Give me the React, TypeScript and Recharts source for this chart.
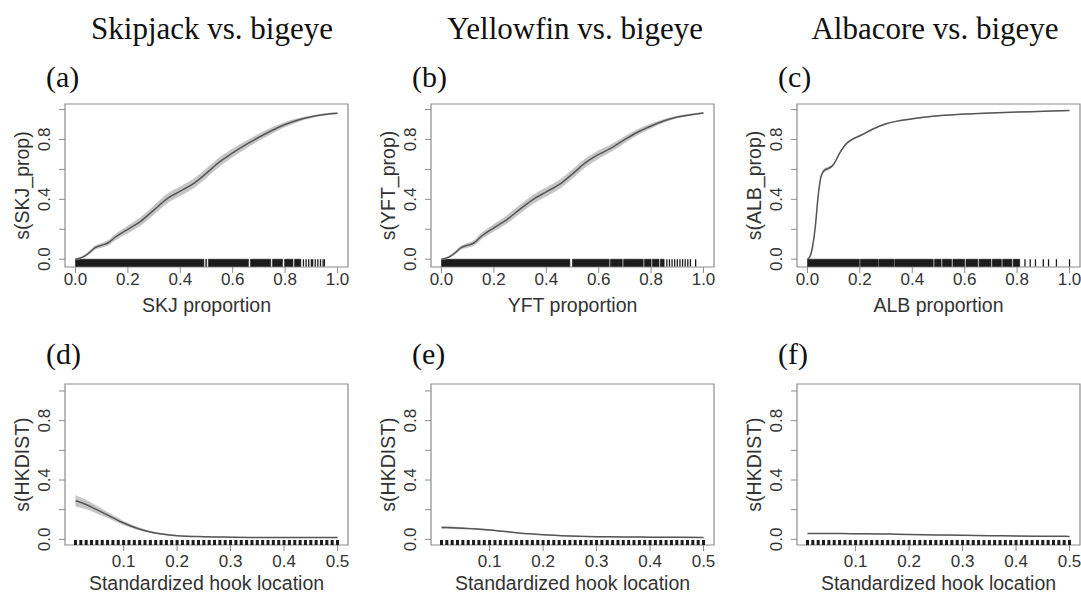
import { ComposedChart, Area, Line, XAxis, YAxis, ReferenceArea, ReferenceLine, Label } from 'recharts';

// species proportion smooths (top row)
const propX = [0, 0.025, 0.05, 0.075, 0.1, 0.125, 0.15, 0.2, 0.25, 0.3, 0.35, 0.4, 0.45, 0.5, 0.55, 0.6, 0.65, 0.7, 0.75, 0.8, 0.85, 0.9, 0.95, 1.0];
const skjFit = [0, 0.012, 0.04, 0.078, 0.093, 0.11, 0.145, 0.2, 0.255, 0.33, 0.405, 0.455, 0.505, 0.575, 0.65, 0.71, 0.765, 0.815, 0.86, 0.9, 0.93, 0.952, 0.967, 0.975];
const skjSe = [0.004, 0.007, 0.011, 0.014, 0.016, 0.018, 0.021, 0.026, 0.029, 0.031, 0.032, 0.032, 0.032, 0.032, 0.031, 0.029, 0.027, 0.024, 0.021, 0.017, 0.013, 0.009, 0.007, 0.005];
const yftFit = [0, 0.012, 0.04, 0.078, 0.093, 0.11, 0.15, 0.21, 0.265, 0.335, 0.4, 0.45, 0.5, 0.57, 0.645, 0.7, 0.745, 0.8, 0.85, 0.89, 0.925, 0.95, 0.965, 0.977];
const yftSe = [0.004, 0.007, 0.011, 0.014, 0.016, 0.018, 0.021, 0.025, 0.028, 0.03, 0.031, 0.031, 0.031, 0.031, 0.03, 0.028, 0.026, 0.023, 0.02, 0.016, 0.012, 0.009, 0.007, 0.005];

const albX = [0, 0.01, 0.02, 0.03, 0.04, 0.05, 0.06, 0.07, 0.08, 0.09, 0.1, 0.125, 0.15, 0.175, 0.2, 0.25, 0.3, 0.35, 0.4, 0.5, 0.6, 0.7, 0.8, 0.9, 1.0];
const albFit = [0, 0.02, 0.09, 0.22, 0.41, 0.54, 0.585, 0.6, 0.607, 0.617, 0.635, 0.715, 0.775, 0.805, 0.825, 0.87, 0.905, 0.925, 0.938, 0.958, 0.97, 0.977, 0.983, 0.988, 0.993];
const albSe = [0.002, 0.005, 0.007, 0.009, 0.011, 0.012, 0.012, 0.012, 0.012, 0.011, 0.01, 0.009, 0.008, 0.007, 0.006, 0.005, 0.005, 0.004, 0.004, 0.003, 0.003, 0.003, 0.003, 0.003, 0.003];

// hook location smooths (bottom row)
const hookX = [0.01, 0.03, 0.05, 0.075, 0.1, 0.125, 0.15, 0.175, 0.2, 0.25, 0.3, 0.35, 0.4, 0.45, 0.5];
const skjHkFit = [0.26, 0.235, 0.2, 0.155, 0.11, 0.075, 0.05, 0.034, 0.025, 0.018, 0.015, 0.013, 0.012, 0.012, 0.012];
const skjHkSe = [0.038, 0.032, 0.026, 0.019, 0.014, 0.01, 0.007, 0.005, 0.004, 0.003, 0.003, 0.003, 0.003, 0.003, 0.004];
const yftHkFit = [0.08, 0.078, 0.075, 0.07, 0.063, 0.054, 0.045, 0.037, 0.031, 0.023, 0.018, 0.016, 0.015, 0.014, 0.013];
const yftHkSe = [0.009, 0.008, 0.007, 0.006, 0.005, 0.004, 0.003, 0.003, 0.003, 0.003, 0.003, 0.003, 0.003, 0.003, 0.003];
const albHkFit = [0.04, 0.04, 0.039, 0.039, 0.038, 0.037, 0.036, 0.035, 0.033, 0.03, 0.027, 0.025, 0.023, 0.021, 0.02];
const albHkSe = [0.003, 0.003, 0.003, 0.003, 0.003, 0.003, 0.003, 0.003, 0.003, 0.003, 0.003, 0.003, 0.003, 0.003, 0.003];

// rugs: dense stretches as blocks, isolated observations as ticks
const skjRugBlocks = [[0, 0.49], [0.497, 0.5], [0.507, 0.66], [0.668, 0.745], [0.752, 0.79], [0.798, 0.83], [0.836, 0.86]];
const skjRugTicks = [0.87, 0.88, 0.89, 0.9, 0.905, 0.915, 0.925, 0.935, 0.945, 0.95];
const yftRugBlocks = [[0, 0.49], [0.5, 0.64], [0.645, 0.69], [0.695, 0.77], [0.775, 0.8], [0.805, 0.83], [0.835, 0.85]];
const yftRugTicks = [0.86, 0.87, 0.88, 0.89, 0.9, 0.91, 0.92, 0.93, 0.94, 0.95, 0.97];
const albRugBlocks = [[0, 0.198], [0.202, 0.27], [0.273, 0.33], [0.333, 0.48], [0.485, 0.51], [0.515, 0.55], [0.555, 0.6], [0.605, 0.65], [0.655, 0.7], [0.705, 0.74], [0.745, 0.78], [0.785, 0.81]];
const albRugTicks = [0.83, 0.85, 0.87, 0.9, 0.92, 0.95, 1.0];
const hookLocs = [
  0.01, 0.02, 0.03, 0.04, 0.05, 0.06, 0.07, 0.08, 0.09, 0.1,
  0.11, 0.12, 0.13, 0.14, 0.15, 0.16, 0.17, 0.18, 0.19, 0.2,
  0.21, 0.22, 0.23, 0.24, 0.25, 0.26, 0.27, 0.28, 0.29, 0.3,
  0.31, 0.32, 0.33, 0.34, 0.35, 0.36, 0.37, 0.38, 0.39, 0.4,
  0.41, 0.42, 0.43, 0.44, 0.45, 0.46, 0.47, 0.48, 0.49, 0.5,
];

const propTicks = [0, 0.2, 0.4, 0.6, 0.8, 1.0];
const hookTicks = [0.1, 0.2, 0.3, 0.4, 0.5];
const yTicks = [0, 0.2, 0.4, 0.6, 0.8, 1.0];
const yLabeled = [0, 0.4, 0.8];

const titles = ['Skipjack vs. bigeye', 'Yellowfin vs. bigeye', 'Albacore vs. bigeye'];

const SANS = '"Liberation Sans", Arial, Helvetica, sans-serif';
const SERIF = '"Liberation Serif", "Times New Roman", serif';
const GREY = '#8c8c8c';
const INK = '#333';

type Row = { x: number; fit: number; band: [number, number] };

function makeRows(xs: number[], fit: number[], se: number[]): Row[] {
  return xs.map((x, i) => ({ x, fit: fit[i], band: [fit[i] - se[i], fit[i] + se[i]] }));
}

const YTick = (props: any) => {
  const { x, y, payload } = props;
  if (!yLabeled.includes(payload.value)) return <g />;
  return (
    <text transform={`translate(${x - 7},${y}) rotate(-90)`} textAnchor="middle"
      fontSize={17} fontFamily={SANS} fill={INK}>
      {payload.value.toFixed(1)}
    </text>
  );
};

interface PanelProps {
  left: number;
  top: number;
  plotH: number;
  rows: Row[];
  xDomain: [number, number];
  yDomain: [number, number];
  xTicks: number[];
  xLabel: string;
  yLabel: string;
  tickGap: number;
  rugY: [number, number];
  rugBlocks?: number[][];
  rugTicks?: number[];
  rugWidth?: number;
}

const CW = 366;
const CH = 280;

function Panel(p: PanelProps) {
  const bottom = CH - 44 - p.plotH - 60;
  return (
    <div style={{ position: 'absolute', left: p.left, top: p.top }}>
      <ComposedChart width={CW} height={CH} data={p.rows} margin={{ top: 44, right: 18, bottom, left: 15 }}>
        <XAxis dataKey="x" type="number" domain={p.xDomain} ticks={p.xTicks} interval={0} allowDataOverflow
          height={60} axisLine={false} tickSize={6} tickMargin={p.tickGap}
          tickLine={{ stroke: GREY }} tick={{ fontSize: 17, fill: INK, fontFamily: SANS }}
          tickFormatter={(v: number) => v.toFixed(1)}>
          <Label content={(lp: any) => {
            const vb = lp.viewBox;
            return (
              <text x={vb.x + vb.width / 2} y={vb.y + 45} textAnchor="middle" fontSize={19.5} fontFamily={SANS} fill={INK}>
                {p.xLabel}
              </text>
            );
          }} />
        </XAxis>
        <YAxis type="number" domain={p.yDomain} ticks={yTicks} interval={0} allowDataOverflow width={50}
          axisLine={false} tickSize={6} tickMargin={2} tickLine={{ stroke: GREY }} tick={<YTick />}>
          <Label content={(lp: any) => {
            const vb = lp.viewBox;
            const cx = vb.x + 14;
            const cy = vb.y + vb.height / 2;
            return (
              <text transform={`translate(${cx},${cy}) rotate(-90)`} textAnchor="middle" fontSize={19.5} fontFamily={SANS} fill={INK}>
                {p.yLabel}
              </text>
            );
          }} />
        </YAxis>
        <ReferenceArea x1={p.xDomain[0]} x2={p.xDomain[1]} y1={p.yDomain[0]} y2={p.yDomain[1]}
          fill="none" stroke={GREY} strokeWidth={1.2} ifOverflow="visible" />
        {(p.rugBlocks || []).map(([a, b], i) => (
          <ReferenceArea key={`b${i}`} x1={a} x2={b} y1={p.rugY[0]} y2={p.rugY[1]}
            fill="#1c1c1c" fillOpacity={1} stroke="#1c1c1c" strokeWidth={0.6} ifOverflow="visible" />
        ))}
        {(p.rugTicks || []).map((v, i) => (
          <ReferenceLine key={`t${i}`} segment={[{ x: v, y: p.rugY[0] }, { x: v, y: p.rugY[1] }]}
            stroke="#1c1c1c" strokeWidth={p.rugWidth || 1.3} ifOverflow="visible" />
        ))}
        <Area dataKey="band" type="monotone" stroke="none" fill="#c6c6c6" fillOpacity={1} isAnimationActive={false} />
        <Line dataKey="fit" type="monotone" stroke="#555" strokeWidth={1.5} dot={false} isAnimationActive={false} />
      </ComposedChart>
    </div>
  );
}

const PROP_DOM: [number, number] = [-0.04, 1.04];
const HOOK_DOM: [number, number] = [-0.0096, 0.5196];
const TOP_Y: [number, number] = [-0.052, 1.037];
const BOT_Y: [number, number] = [-0.038, 1.047];

export default function App() {
  const cols = [0, 366, 732];
  const tags = ['(a)', '(b)', '(c)', '(d)', '(e)', '(f)'];
  const titleX = [212, 575, 935];
  return (
    <div style={{ position: 'absolute', left: 0, top: 0, width: 1081, height: 593, overflow: 'hidden', background: '#fff' }}>
      <Panel left={cols[0]} top={60} plotH={163} rows={makeRows(propX, skjFit, skjSe)} xDomain={PROP_DOM} yDomain={TOP_Y}
        xTicks={propTicks} xLabel="SKJ proportion" yLabel="s(SKJ_prop)" tickGap={0} rugY={[-0.048, 0]}
        rugBlocks={skjRugBlocks} rugTicks={skjRugTicks} />
      <Panel left={cols[1]} top={60} plotH={163} rows={makeRows(propX, yftFit, yftSe)} xDomain={PROP_DOM} yDomain={TOP_Y}
        xTicks={propTicks} xLabel="YFT proportion" yLabel="s(YFT_prop)" tickGap={0} rugY={[-0.048, 0]}
        rugBlocks={yftRugBlocks} rugTicks={yftRugTicks} />
      <Panel left={cols[2]} top={60} plotH={163} rows={makeRows(albX, albFit, albSe)} xDomain={PROP_DOM} yDomain={TOP_Y}
        xTicks={propTicks} xLabel="ALB proportion" yLabel="s(ALB_prop)" tickGap={0} rugY={[-0.048, 0]}
        rugBlocks={albRugBlocks} rugTicks={albRugTicks} />
      <Panel left={cols[0]} top={340} plotH={161} rows={makeRows(hookX, skjHkFit, skjHkSe)} xDomain={HOOK_DOM} yDomain={BOT_Y}
        xTicks={hookTicks} xLabel="Standardized hook location" yLabel="s(HKDIST)" tickGap={4} rugY={[-0.038, -0.004]}
        rugTicks={hookLocs} rugWidth={3} />
      <Panel left={cols[1]} top={340} plotH={161} rows={makeRows(hookX, yftHkFit, yftHkSe)} xDomain={HOOK_DOM} yDomain={BOT_Y}
        xTicks={hookTicks} xLabel="Standardized hook location" yLabel="s(HKDIST)" tickGap={4} rugY={[-0.038, -0.004]}
        rugTicks={hookLocs} rugWidth={3} />
      <Panel left={cols[2]} top={340} plotH={161} rows={makeRows(hookX, albHkFit, albHkSe)} xDomain={HOOK_DOM} yDomain={BOT_Y}
        xTicks={hookTicks} xLabel="Standardized hook location" yLabel="s(HKDIST)" tickGap={4} rugY={[-0.038, -0.004]}
        rugTicks={hookLocs} rugWidth={3} />
      <svg width={1081} height={593} style={{ position: 'absolute', left: 0, top: 0, pointerEvents: 'none' }}>
        {titles.map((t, i) => (
          <text key={t} x={titleX[i]} y={39} textAnchor="middle" fontSize={31} fontFamily={SERIF} fill="#111">{t}</text>
        ))}
        {tags.map((t, i) => (
          <text key={t} x={cols[i % 3] + 46} y={i < 3 ? 87 : 364} fontSize={30} fontFamily={SERIF} fill="#111">{t}</text>
        ))}
      </svg>
    </div>
  );
}
